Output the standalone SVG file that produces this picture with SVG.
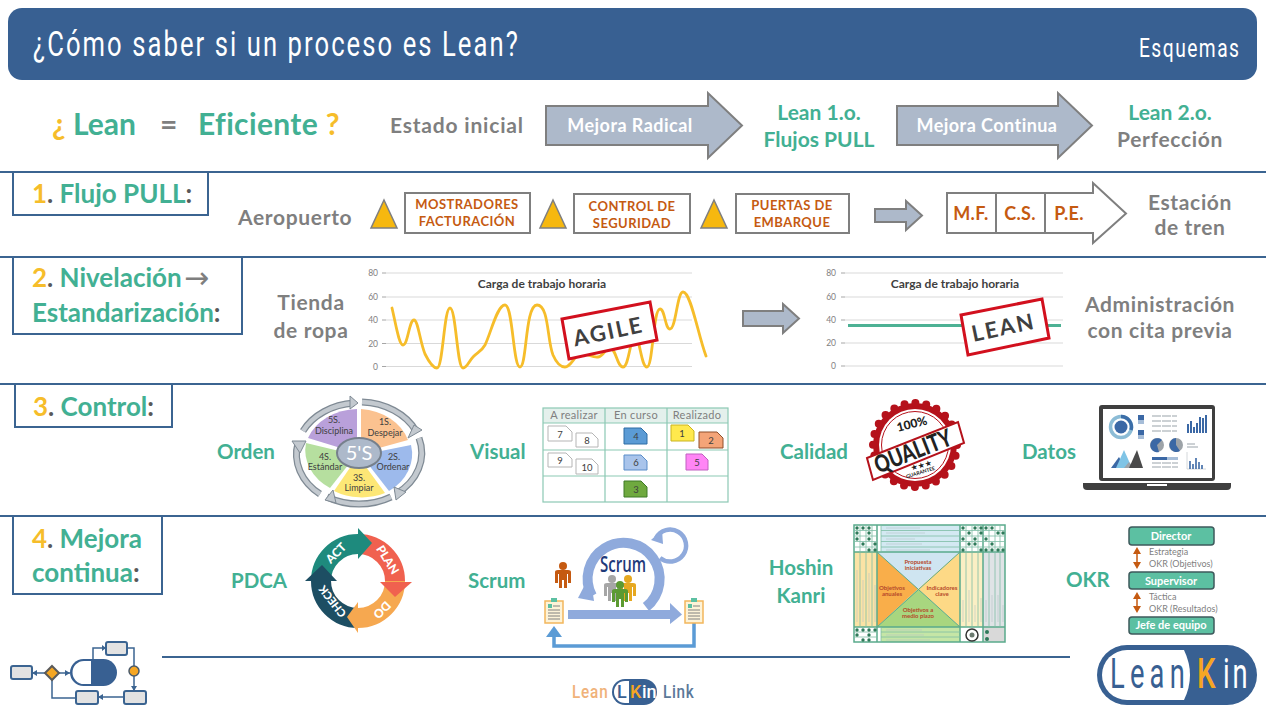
<svg xmlns="http://www.w3.org/2000/svg" width="1266" height="712" viewBox="0 0 1266 712">
<defs>
<style>
text{font-family:"Lato","Open Sans","Liberation Sans",sans-serif;font-weight:700}
.t{fill:#42b093}.y{fill:#f6bd2a}.g{fill:#7f7f7f}.dk{fill:#595959}
.sec{font-size:26px}.row{font-size:21px}.row.g{letter-spacing:.65px}.lab{font-size:20.5px;fill:#42b093}
.m{text-anchor:middle}
.sep{stroke:#3b6491;stroke-width:2;fill:none}
.box{fill:#fff;stroke:#3b6491;stroke-width:2}
.arr{fill:#adb9ca;stroke:#7f7f7f;stroke-width:2}
.arrt{fill:#fff;font-size:18px;text-anchor:middle;letter-spacing:.45px}
.stg{fill:#fff;stroke:#7f7f7f;stroke-width:2}
.stt{fill:#c55a11;font-size:13px;text-anchor:middle;letter-spacing:.45px}
.tri{fill:#f6b80f;stroke:#7f7f7f;stroke-width:1.5}
.mfc{fill:#c55a11;font-size:18px;text-anchor:middle;letter-spacing:.3px}
.grid{stroke:#d9d9d9;stroke-width:1.2}
.tick{font-size:8.5px;fill:#7f7f7f;text-anchor:end;font-weight:400}
.cht{font-size:12px;fill:#404040;text-anchor:middle}
.stamp{fill:#fff;stroke:#d2101e;stroke-width:3}
.stampt{font-size:22px;fill:#404040;text-anchor:middle;letter-spacing:2px}
.ring{fill:none;stroke:#7f8a94;stroke-width:7}
.ring2{fill:none;stroke:#c3c9cf;stroke-width:4.5}
.rh{fill:#c3c9cf;stroke:#7f8a94;stroke-width:1}
.s5{font-size:9px;fill:#404040;text-anchor:middle;font-weight:400}
.note{stroke-width:1}
.nw{fill:#fff;stroke:#b5b5b5}
.kh{font-size:11px;fill:#7f7f7f;text-anchor:middle;font-weight:400;letter-spacing:.3px}
.kn{font-size:9.5px;fill:#404040;text-anchor:middle;font-weight:400}
.kg{fill:none;stroke:#8cc9b4;stroke-width:1.2}
.pd{fill:none;stroke-width:20}
.pt{font-size:12px;fill:#fff;text-anchor:middle;font-weight:900}
.sc{fill:none;stroke:#8faadc}
.okb{fill:#5cc0a2;stroke:#3e5a5c;stroke-width:1.5}
.okt{fill:#fff;font-size:11px;text-anchor:middle}
.oks{fill:#7f7f7f;font-size:9px;font-weight:400}
.oka{fill:none;stroke:#c55a11;stroke-width:1.5}
.okh{fill:#c55a11}
.hg{stroke:#7dbda4;stroke-width:.8;fill:none}
.hb{stroke:#5aaa8c;stroke-width:1.5;fill:none}
.hl{stroke:#b6c2c6;stroke-width:.6;fill:none}
.hd{fill:#2f7a5a}
.ht{font-size:6px;fill:#b5482a;text-anchor:middle}
.fl{fill:#e2e2e2;stroke:#3b6491;stroke-width:2}
.fc{fill:none;stroke:#3b6491;stroke-width:1.5}
.fa{fill:#3b6491}
.c{font-family:Roboto,sans-serif}
</style>
<g id="person"><circle cx="0" cy="-9" r="4"/><path d="M-8,-3 Q-8,-5 -5,-5 H5 Q8,-5 8,-3 V8 H5 V-1 H4 V13 H1 V5 H-1 V13 H-4 V-1 H-5 V8 H-8Z"/></g>
</defs>
<rect width="1266" height="712" fill="#fff"/>

<g id="header">
<rect x="8" y="8" width="1249" height="72" rx="14" fill="#386092"/>
<text transform="translate(33,56) scale(.8,1.12)" font-size="32" fill="#fff" textLength="606" style="font-family:Roboto,sans-serif;font-weight:400">¿Cómo saber si un proceso es Lean?</text>
<text transform="translate(1139,57) scale(.8,1.1)" font-size="24" fill="#fff" textLength="125" style="font-family:Roboto,sans-serif;font-weight:400">Esquemas</text>
</g>

<g id="connectors">
<path class="sep" d="M0,172H1266M0,257H1266M0,384H1266M0,516H1266M162,657H1070"/>
<path class="arr" d="M546,106H708V93L742,125.500L708,158V145H546Z"/>
<path class="arr" d="M897,106H1058V93L1092,125.500L1058,158V145H897Z"/>
<path class="arr" d="M875,209H906V201L922,215.500L906,230V222H875Z"/>
<path class="arr" d="M743,311H783V304L799,318.500L783,333V326H743Z"/>
</g>

<g id="intro">
<text x="52" y="135" font-size="30"><tspan class="y">¿ </tspan><tspan class="t">Lean</tspan></text>
<text x="160" y="135" font-size="30" class="g">=</text>
<text x="198" y="135" font-size="30" letter-spacing=".35"><tspan class="t">Eficiente </tspan><tspan class="y">?</tspan></text>
<text x="390" y="133" class="row g" style="letter-spacing:.8px">Estado inicial</text>
<text x="630" y="132" class="arrt">Mejora Radical</text>
<text x="987" y="132" class="arrt">Mejora Continua</text>
<text x="819" y="120" class="row t m">Lean 1.o.</text>
<text x="819" y="147" class="row t m">Flujos PULL</text>
<text x="1170" y="120" class="row t m">Lean 2.o.</text>
<text x="1170" y="147" class="row g m">Perfección</text>
</g>

<g id="sec1">
<rect class="box" x="13" y="172" width="195" height="43"/>
<text x="32" y="203" class="sec"><tspan class="y">1</tspan><tspan class="dk">. </tspan><tspan class="t">Flujo PULL</tspan><tspan class="dk">:</tspan></text>
<text x="238" y="225" class="row g">Aeropuerto</text>
<path class="tri" d="M384,200L397,228H371Z"/><path class="tri" d="M553,200L566,228H540Z"/><path class="tri" d="M714,200L727,228H701Z"/>
<rect class="stg" x="405" y="193" width="125" height="40"/>
<text x="467" y="209" class="stt">MOSTRADORES</text><text x="467" y="226" class="stt">FACTURACIÓN</text>
<rect class="stg" x="574" y="194" width="116" height="39"/>
<text x="632" y="211" class="stt">CONTROL DE</text><text x="632" y="228" class="stt">SEGURIDAD</text>
<rect class="stg" x="736" y="194" width="113" height="39"/>
<text x="792" y="210" class="stt">PUERTAS DE</text><text x="792" y="227" class="stt">EMBARQUE</text>
<path d="M947,193H1093V183L1126,213.500L1093,243V233H947Z" fill="#fff" stroke="#7f7f7f" stroke-width="2"/>
<path d="M996,193V233M1045,193V233" stroke="#7f7f7f" stroke-width="2"/>
<text x="971" y="220" class="mfc">M.F.</text><text x="1020" y="220" class="mfc">C.S.</text><text x="1069" y="220" class="mfc">P.E.</text>
<text x="1190" y="210" class="row g m">Estación</text><text x="1190" y="235" class="row g m">de tren</text>
</g>

<g id="sec2">
<rect class="box" x="13" y="257" width="229" height="77"/>
<text x="32" y="287" class="sec"><tspan class="y">2</tspan><tspan class="dk">. </tspan><tspan class="t">Nivelación</tspan></text>
<text x="184" y="288" font-size="30" class="g" style="font-family:'DejaVu Sans',sans-serif;font-weight:400">→</text>
<text x="32" y="322" class="sec"><tspan class="t">Estandarización</tspan><tspan class="dk">:</tspan></text>
<text x="311" y="310" class="row g m">Tienda</text><text x="311" y="338" class="row g m">de ropa</text>
<g id="chart-agile">
<path class="grid" d="M386,273H692M386,297H692M386,320H692M386,343.500H692M386,366.500H692"/>
<path stroke="#a6a6a6" d="M382,273H386M382,297H386M382,320H386M382,343.500H386M382,366.500H386"/>
<text x="378" y="276" class="tick">80</text><text x="378" y="300" class="tick">60</text><text x="378" y="323" class="tick">40</text><text x="378" y="347" class="tick">20</text><text x="378" y="370" class="tick">0</text>
<text x="542" y="288" class="cht">Carga de trabajo horaria</text>
<path fill="none" stroke="#f6bd2a" stroke-width="2.800" stroke-linecap="round" d="M392,308 C396,325 399,345 403,345 C408,345 409,320 414,320 C418,320 420,342 425,354 C429,362 433,368 437,368 C443,368 444,308 450,308 C456,308 457,368 463,368 C467,368 469,361 473,357 C478,352 481,352 485,345 C491,333 497,305 505,305 C513,305 513,367 520,367 C527,367 525,305 537,305 C549,305 547,340 553,355 C556,362 560,367 565,367 C571,367 574,356 580,354 C586,352 592,358 598,357 C604,356 605,348 610,348 C616,348 617,367 623,367 C629,367 630,337 635,337 C640,337 641,367 647,367 C653,367 653,309 660,309 C665,309 665,329 670,329 C676,329 677,292 683,292 C691,292 698,335 706,356"/>
<path class="stamp" d="M562,319L650,302L657,340L569,359Z"/>
<text transform="translate(610,339) rotate(-12)" class="stampt">AGILE</text>
</g>
<g id="chart-lean">
<path class="grid" d="M845,273H1063M845,297H1063M845,320H1063M845,343H1063M845,366H1063"/>
<path stroke="#a6a6a6" d="M841,273H845M841,297H845M841,320H845M841,343H845M841,366H845"/>
<text x="836" y="276" class="tick">80</text><text x="836" y="300" class="tick">60</text><text x="836" y="323" class="tick">40</text><text x="836" y="346" class="tick">20</text><text x="836" y="369" class="tick">0</text>
<text x="955" y="288" class="cht">Carga de trabajo horaria</text>
<path stroke="#4db194" stroke-width="3" d="M848,325.500H1061"/>
<path class="stamp" d="M961,315L1042,299L1049,338L968,355Z"/>
<text transform="translate(1005,335) rotate(-12)" class="stampt">LEAN</text>
</g>
<text x="1160" y="312" class="row g m">Administración</text><text x="1160" y="338" class="row g m">con cita previa</text>
</g>

<g id="sec3">
<rect class="box" x="15" y="384" width="157" height="43"/>
<text x="33" y="416" class="sec"><tspan class="y">3</tspan><tspan class="dk">. </tspan><tspan class="t">Control</tspan><tspan class="dk">:</tspan></text>
<text x="217" y="459" class="lab">Orden</text>
<text x="470" y="459" class="lab">Visual</text>
<text x="780" y="459" class="lab">Calidad</text>
<text x="1022" y="459" class="lab">Datos</text>
</g>

<g id="cycle-5s">
<path fill="#b9a0da" d="M357,409L357,453L308,438A54,45 0 0 1 357,409Z"/>
<path fill="#fbc290" d="M361,409A54,45 0 0 1 408,440L361,453Z"/>
<path fill="#9dbaec" d="M411,445A54,45 0 0 1 389,491L361,455Z"/>
<path fill="#fde776" d="M385,493A54,45 0 0 1 334,491L358,456Z"/>
<path fill="#b6df9f" d="M330,488A54,45 0 0 1 306,443L356,455Z"/>
<path class="ring" d="M362,402A63,51 0 0 1 416,431"/><path class="ring2" d="M362,402A63,51 0 0 1 416,431"/>
<path class="ring" d="M419,438A63,51 0 0 1 396,494"/><path class="ring2" d="M419,438A63,51 0 0 1 396,494"/>
<path class="ring" d="M391,497A63,51 0 0 1 327,497"/><path class="ring2" d="M391,497A63,51 0 0 1 327,497"/>
<path class="ring" d="M320,494A63,51 0 0 1 298,443"/><path class="ring2" d="M320,494A63,51 0 0 1 298,443"/>
<path class="ring" d="M303,431A63,51 0 0 1 354,403"/><path class="ring2" d="M303,431A63,51 0 0 1 354,403"/>
<path class="rh" d="M422,430L408,438L414,425Z"/><path class="rh" d="M396,500L394,487L406,492Z"/><path class="rh" d="M325,500L333,490L336,503Z"/><path class="rh" d="M292,441L306,441L300,453Z"/><path class="rh" d="M358,403L350,396L350,409Z"/>
<ellipse cx="359" cy="453" rx="22" ry="15" fill="#adb9ca" stroke="#76808c" stroke-width="2"/>
<text x="359" y="460" text-anchor="middle" font-size="20" fill="#fff" style="font-weight:400">5'S</text>
<text x="334" y="423" class="s5">5S.</text><text x="334" y="434" class="s5">Disciplina</text>
<text x="385" y="425" class="s5">1S.</text><text x="385" y="436" class="s5">Despejar</text>
<text x="394" y="460" class="s5">2S.</text><text x="393" y="470" class="s5">Ordenar</text>
<text x="359" y="481" class="s5">3S.</text><text x="359" y="491" class="s5">Limpiar</text>
<text x="325" y="460" class="s5">4S.</text><text x="325" y="470" class="s5">Estándar</text>
</g>

<g id="kanban">
<rect x="543" y="408" width="185" height="15" fill="#e4f0ec"/>
<rect class="kg" x="543" y="408" width="185" height="94"/>
<path class="kg" d="M543,423H728M543,450H728M543,476H728M605,408V502M667,408V502"/>
<text x="574" y="419" class="kh">A realizar</text><text x="636" y="419" class="kh">En curso</text><text x="697" y="419" class="kh">Realizado</text>
<path class="note nw" d="M548,426H566L572,432V441H548Z"/><path class="note nw" d="M576,433H592L598,439V447H576Z"/>
<path class="note nw" d="M548,453H566L572,459V467H548Z"/><path class="note nw" d="M576,459H592L598,465V474H576Z"/>
<path class="note" fill="#5b9bd5" stroke="#2e6da4" d="M624,428H641L647,434V444H624Z"/>
<path class="note" fill="#a9c4eb" stroke="#5b8dc9" d="M624,455H641L647,461V470H624Z"/>
<path class="note" fill="#6fa93f" stroke="#3f7a26" d="M624,481H641L647,487V497H624Z"/>
<path class="note" fill="#ffe94d" stroke="#c9b422" d="M671,425H688L694,431V441H671Z"/>
<path class="note" fill="#f4a478" stroke="#8f4f2a" d="M699,432H717L723,438V448H699Z"/>
<path class="note" fill="#ff85f5" stroke="#c060c0" d="M686,454H702L708,460V470H686Z"/>
<text x="560" y="438" class="kn">7</text><text x="587" y="444" class="kn">8</text><text x="560" y="464" class="kn">9</text><text x="587" y="471" class="kn">10</text>
<text x="636" y="440" class="kn">4</text><text x="636" y="466" class="kn">6</text><text x="636" y="493" class="kn">3</text>
<text x="682" y="437" class="kn">1</text><text x="711" y="444" class="kn">2</text><text x="697" y="466" class="kn">5</text>
</g>

<g id="quality">
<circle cx="915" cy="445" r="42" fill="#b5121b" stroke="#b5121b" stroke-width="8" stroke-dasharray="0 11" stroke-linecap="round"/>
<circle cx="915" cy="445" r="36" fill="#fff"/>
<circle cx="915" cy="445" r="33.500" fill="none" stroke="#b5121b" stroke-width="1"/>
<text transform="translate(913,428) rotate(-14)" text-anchor="middle" font-size="12" fill="#222" style="font-weight:900">100%</text>
<path d="M867,458L958,422L964,443L873,480Z" fill="#fff" stroke="#b5121b" stroke-width="2"/>
<text transform="translate(916,459) rotate(-21.500) scale(.78,1)" text-anchor="middle" font-size="24" fill="#222" style="font-weight:900">QUALITY</text>
<text transform="translate(922,468) rotate(-15)" text-anchor="middle" font-size="8" fill="#222" style="font-family:'DejaVu Sans',sans-serif">★★★</text>
<text transform="translate(921,474) rotate(-17)" text-anchor="middle" font-size="5" fill="#222">GUARANTEE</text>
</g>

<g id="laptop">
<rect x="1099" y="405" width="116" height="76" rx="3" fill="#3f3f3f"/>
<rect x="1103" y="409" width="109" height="69" fill="#fff"/>
<path d="M1083,483H1231V486Q1231,490 1227,490H1087Q1083,490 1083,486Z" fill="#3f3f3f"/>
<rect x="1147" y="484" width="20" height="2" fill="#fff"/>
<circle cx="1121" cy="427" r="10.500" fill="none" stroke="#8cbcd6" stroke-width="3.500"/>
<path d="M1121,416.500A10.500,10.500 0 0 1 1131,430" fill="none" stroke="#3c6ea8" stroke-width="3.500"/>
<circle cx="1121" cy="427" r="6.500" fill="#3b68a5"/>
<rect x="1138" y="415" width="6" height="5" fill="#3b68a5"/><rect x="1138" y="420" width="6" height="4" fill="#a6bdd8"/>
<rect x="1138" y="430" width="6" height="5" fill="#3b68a5"/><rect x="1138" y="435" width="6" height="4" fill="#a6bdd8"/>
<path d="M1152,416H1177M1152,421H1177M1152,426H1177M1152,431H1177" stroke="#9aa3aa" stroke-width="1.200" stroke-dasharray="9 1"/>
<path d="M1188,433V424M1191,433V421M1194,433V427M1197,433V423M1200,433V417M1203,433V418M1206,433V415" stroke="#3b68a5" stroke-width="2"/>
<circle cx="1157" cy="445" r="7" fill="#9da3a8"/><path d="M1157,445L1162,440A7,7 0 1 0 1159,452Z" fill="#3b68a5"/>
<circle cx="1176" cy="445" r="7" fill="#9da3a8"/><path d="M1176,445L1176,438A7,7 0 1 0 1180,451Z" fill="#3b68a5"/>
<path d="M1187,444H1195M1187,447H1198" stroke="#9aa3aa" stroke-width="1"/>
<path d="M1111,468L1119,457L1125,468Z" fill="#3b68a5"/><path d="M1116,468L1124,450L1132,468Z" fill="#7fc4e6"/><path d="M1124,468L1129,462L1134,468Z" fill="#9da3a8"/><path d="M1129,468L1137,450L1143,468Z" fill="#4a4a4a"/>
<rect x="1152" y="457" width="26" height="3" fill="#a6bdd8"/><rect x="1152" y="457" width="15" height="3" fill="#3b68a5"/>
<path d="M1152,463H1178M1152,467H1178" stroke="#9aa3aa" stroke-width="1" stroke-dasharray="9 1"/>
<path d="M1187,452V469H1206" fill="none" stroke="#c9ced2" stroke-width=".8"/>
<path d="M1190,469V461M1193,469V464M1196,469V458M1199,469V462M1202,469V465" stroke="#3b68a5" stroke-width="1.600"/>
</g>

<g id="sec4">
<rect class="box" x="13" y="516" width="149" height="78"/>
<text x="32" y="548" class="sec"><tspan class="y">4</tspan><tspan class="dk">. </tspan><tspan class="t">Mejora</tspan></text>
<text x="32" y="582" class="sec"><tspan class="t">continua</tspan><tspan class="dk">:</tspan></text>
<text x="231" y="588" class="lab">PDCA</text>
<text x="468" y="588" class="lab">Scrum</text>
<text x="801" y="575" class="lab m">Hoshin</text><text x="801" y="603" class="lab m">Kanri</text>
<text x="1066" y="587" class="lab">OKR</text>
</g>

<g id="pdca">
<path class="pd" stroke="#1e8a7d" d="M321,581A37,37 0 0 1 358,544"/>
<path class="pd" stroke="#f0614f" d="M358,544A37,37 0 0 1 395,581"/>
<path class="pd" stroke="#f6a850" d="M395,581A37,37 0 0 1 358,618"/>
<path class="pd" stroke="#1d4e63" d="M358,618A37,37 0 0 1 321,581"/>
<path fill="#1e8a7d" d="M372,543L358,528V559Z"/>
<path fill="#f0614f" d="M395,597L380,582H412Z"/>
<path fill="#f6a850" d="M347,617L358,602V633Z"/>
<path fill="#1d4e63" d="M322,565L305,581H337Z"/>
<text transform="translate(339,556) rotate(-45)" class="pt">ACT</text>
<text transform="translate(384,562) rotate(58)" class="pt">PLAN</text>
<text transform="translate(379,607) rotate(135)" class="pt">DO</text>
<text transform="translate(335.500,599) rotate(-128)" class="pt" style="font-size:11px">CHECK</text>
</g>

<g id="scrum">
<path class="sc" stroke-width="10" d="M646,607A36,36 0 1 0 592,596"/>
<path fill="#8faadc" d="M594,601L578,598L590,575Z"/>
<path class="sc" stroke-width="4.500" d="M660,558A16,16 0 1 0 656,538"/>
<path fill="#8faadc" d="M651,540L662,530L663,544Z"/>
<path fill="#8faadc" d="M568,610H670V603L682,614.500L670,624V619H568Z"/>
<path d="M694,623V646H554V636" fill="none" stroke="#5b9bd5" stroke-width="3.500"/>
<path fill="#5b9bd5" d="M554,626L546,637H562Z"/>
<text x="623" y="572" text-anchor="middle" font-size="21" fill="#1f3a7a" style="font-family:'Open Sans',sans-serif;font-weight:600" textLength="46" lengthAdjust="spacingAndGlyphs">Scrum</text>
<use href="#person" x="563" y="575" fill="#c55a11"/>
<use href="#person" x="612" y="588" fill="#a6a6a6"/>
<use href="#person" x="628" y="588" fill="#e6a820"/>
<use href="#person" x="620" y="594" fill="#5c9a32"/>
<g id="clip-left"><rect x="545" y="601" width="18" height="22" fill="#fdf3d8" stroke="#f2b65c" stroke-width="1.500"/><rect x="551" y="598" width="6" height="4" fill="#5cc0a2"/><rect x="548" y="604" width="4" height="4" fill="#5cc0a2"/><path d="M553,606H560M548,610H560M548,613H560M548,616H560M548,619H560" stroke="#808080"/></g>
<g id="clip-right"><rect x="685" y="601" width="18" height="22" fill="#fdf3d8" stroke="#f2b65c" stroke-width="1.500"/><rect x="691" y="598" width="6" height="4" fill="#5cc0a2"/><rect x="688" y="604" width="4" height="4" fill="#5cc0a2"/><path d="M693,606H700M688,610H700M688,613H700M688,616H700M688,619H700" stroke="#808080"/></g>
</g>

<g id="hoshin">
<rect x="854" y="525" width="151" height="117" fill="#fff"/>
<path fill="#cfe5f1" d="M877,552H960L918,589Z"/>
<path fill="#f9ae4a" d="M877,552L918,589L877,627Z"/>
<path fill="#fdd986" d="M960,552L918,589L960,627Z"/>
<path fill="#a8d67f" d="M877,627L918,589L960,627Z"/>
<path d="M877,552L960,627M960,552L877,627" stroke="#5aaa8c" stroke-width="1"/>
<rect x="881" y="525" width="79" height="27" fill="#d3e9f2"/>
<rect x="854" y="552" width="23" height="75" fill="#fbe3a5"/>
<rect x="960" y="552" width="23" height="75" fill="#fbefc4"/>
<rect x="983" y="552" width="22" height="75" fill="#dfe3e6"/>
<rect x="881" y="627" width="79" height="15" fill="#c5e6a6"/>
<rect x="983" y="627" width="22" height="15" fill="#d9d9d9"/>
<path class="hb" d="M854,525H1005V642H854ZM854,552H1005M854,627H1005M877,525V642M960,525V642M983,525V642"/>
<path class="hg" d="M881,525V552M881,627V642M881,530.500H960M881,536H960M881,541.500H960M881,547H960M881,632H960M881,637H960M860,525V627M866,525V627M872,525V627M966,525V627M972,525V627M978,525V627M989,525V627M995,525V627M1000,525V627M854,530.500H877M854,536H877M854,541.500H877M854,547H877M854,632H877M854,637H877M960,530.500H1005M960,536H1005M960,541.500H1005M960,547H1005"/>
<path class="hl" d="M886,528H920M886,533H925M886,539H915M886,544H922M886,550H930M886,630H922M886,635H924M886,640H930"/>
<path class="hl" d="M857,570V622M863,580V622M869,573V622M875,585V622M963,600V622M969,590V622M975,605V622M981,598V622M986,600V622M992,595V622M998,595V622M1003,605V622"/>
<g class="hd"><circle cx="857" cy="528" r="1.700"/><circle cx="863" cy="528" r="1.700"/><circle cx="869" cy="528" r="1.700"/><circle cx="857" cy="533" r="1.700"/><circle cx="869" cy="533" r="1.700"/><circle cx="857" cy="539" r="1.700"/><circle cx="869" cy="539" r="1.700"/><circle cx="863" cy="544" r="1.700"/><circle cx="875" cy="544" r="1.700"/><circle cx="869" cy="550" r="1.700"/><circle cx="875" cy="550" r="1.700"/><circle cx="857" cy="630" r="1.700"/><circle cx="863" cy="630" r="1.700"/><circle cx="869" cy="630" r="1.700"/><circle cx="875" cy="630" r="1.700"/><circle cx="857" cy="635" r="1.700"/><circle cx="869" cy="635" r="1.700"/><circle cx="863" cy="640" r="1.700"/><circle cx="869" cy="640" r="1.700"/><circle cx="963" cy="528" r="1.700"/><circle cx="975" cy="528" r="1.700"/><circle cx="981" cy="528" r="1.700"/><circle cx="986" cy="528" r="1.700"/><circle cx="992" cy="528" r="1.700"/><circle cx="969" cy="533" r="1.700"/><circle cx="981" cy="533" r="1.700"/><circle cx="998" cy="533" r="1.700"/><circle cx="1003" cy="533" r="1.700"/><circle cx="963" cy="539" r="1.700"/><circle cx="975" cy="539" r="1.700"/><circle cx="986" cy="539" r="1.700"/><circle cx="969" cy="544" r="1.700"/><circle cx="975" cy="544" r="1.700"/><circle cx="992" cy="544" r="1.700"/><circle cx="963" cy="550" r="1.700"/><circle cx="981" cy="550" r="1.700"/><circle cx="986" cy="550" r="1.700"/><circle cx="992" cy="550" r="1.700"/><circle cx="998" cy="550" r="1.700"/><circle cx="1003" cy="550" r="1.700"/><circle cx="987" cy="632" r="2"/><circle cx="987" cy="639" r="2"/></g>
<circle cx="972" cy="635" r="6" fill="#fff" stroke="#333" stroke-width="1.500"/><circle cx="972" cy="635" r="2.500" fill="#6b7a70"/>
<text x="918" y="564" class="ht">Propuesta</text><text x="918" y="570" class="ht">iniciativas</text>
<text x="892" y="590" class="ht">Objetivos</text><text x="892" y="596" class="ht">anuales</text>
<text x="942" y="590" class="ht">Indicadores</text><text x="942" y="596" class="ht">clave</text>
<text x="918" y="612" class="ht">Objetivos a</text><text x="918" y="618" class="ht">medio plazo</text>
</g>

<g id="okr-director"><rect class="okb" x="1129" y="527" width="85" height="18" rx="3"/><text x="1171" y="540" class="okt">Director</text></g>
<g id="okr-supervisor"><rect class="okb" x="1129" y="572" width="85" height="17" rx="3"/><text x="1171" y="585" class="okt">Supervisor</text></g>
<g id="okr-jefe"><rect class="okb" x="1129" y="617" width="85" height="17" rx="3"/><text x="1171" y="629" class="okt">Jefe de equipo</text></g>
<g id="okr-arrows">
<path class="oka" d="M1137,552V565M1137,597V609"/>
<path class="okh" d="M1137,547L1133,554H1141ZM1137,569L1133,562H1141ZM1137,592L1133,599H1141ZM1137,613L1133,606H1141Z"/>
<text x="1149" y="555" class="oks">Estrategia</text><text x="1149" y="567" class="oks">OKR (Objetivos)</text>
<text x="1149" y="600" class="oks">Táctica</text><text x="1149" y="612" class="oks">OKR (Resultados)</text>
</g>

<g id="logo-leankin">
<rect x="1097" y="645" width="160" height="60" rx="30" fill="#386092"/>
<path d="M1127,650H1184Q1196,675 1184,700H1127A25,25 0 0 1 1127,650Z" fill="#fff"/>
<text transform="translate(1110,688) scale(.65,1)" font-size="42" fill="#386092" textLength="115" style="font-family:Roboto,sans-serif;font-weight:400">Lean</text>
<text transform="translate(1197,688) scale(.7,1)" font-size="42" fill="#f5a623" style="font-family:Roboto,sans-serif;font-weight:500">K</text>
<text transform="translate(1223,688) scale(.65,1)" font-size="42" fill="#fff" textLength="38" style="font-family:Roboto,sans-serif;font-weight:400">in</text>
</g>

<g id="logo-flow">
<path class="fc" d="M32,673H45M59,673H70M93,659V648H106M127,648H134V666M134,676V691M124,697H98M52,680V698H76"/>
<path class="fa" d="M32,673L37,670V676ZM70,673L65,670V676ZM106,648L102,645V651ZM134,691L131,686H137ZM98,697L103,694V700Z"/>
<rect class="fl" x="11" y="666" width="21" height="13" rx="2"/>
<path d="M52,666L59,673L52,680L45,673Z" fill="#f5a623" stroke="#5a5a5a" stroke-width="2"/>
<rect x="70" y="659" width="47" height="27" rx="13.500" fill="#386092"/>
<path d="M84,661H91V684H84A11.500,11.500 0 0 1 84,661Z" fill="#fff"/>
<rect class="fl" x="106" y="642" width="21" height="13" rx="2"/>
<circle cx="134" cy="671" r="5" fill="#f5a623" stroke="#4a5a6a" stroke-width="1.500"/>
<rect class="fl" x="124" y="691" width="22" height="13" rx="2"/>
<rect class="fl" x="76" y="691" width="22" height="13" rx="2"/>
</g>

<g id="logo-link">
<text transform="translate(572,698) scale(.85,1)" font-size="18" fill="#f0b27a" textLength="42" style="font-family:Roboto,sans-serif;font-weight:500">Lean</text>
<rect x="612" y="679" width="45" height="26" rx="13" fill="#386092"/>
<path d="M625,681H629V703H625A11,11 0 0 1 625,681Z" fill="#fff"/>
<text x="617" y="698" font-size="18" fill="#386092" style="font-family:Roboto,sans-serif;font-weight:500">L</text>
<text x="630" y="698" font-size="18" fill="#f5a623" style="font-family:Roboto,sans-serif;font-weight:500">K</text>
<text x="642" y="698" font-size="18" fill="#fff" style="font-family:Roboto,sans-serif;font-weight:500">in</text>
<text transform="translate(663,698) scale(.85,1)" font-size="18" fill="#5b7899" textLength="36" style="font-family:Roboto,sans-serif;font-weight:500">Link</text>
</g>
</svg>
